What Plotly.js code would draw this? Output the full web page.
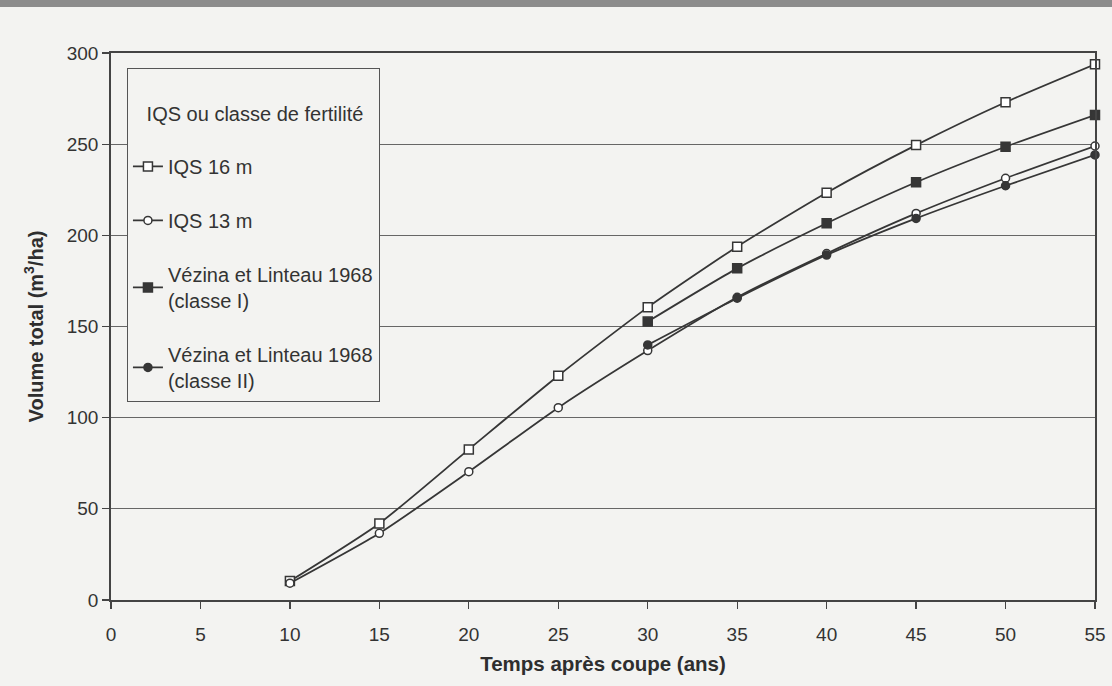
<!DOCTYPE html>
<html>
<head>
<meta charset="utf-8">
<script src="https://cdn.plot.ly/plotly-3.0.1.min.js"></script>
<style>
  html, body { margin: 0; padding: 0; background: #f3f3f1; }
  #band { position: absolute; left: 0; top: 0; width: 1112px; height: 7px; background: #8c8c8c; z-index: 5; }
  #chart { width: 1112px; height: 686px; }
</style>
</head>
<body>
<div id="band"></div>
<div id="chart"></div>
<script>
// Years after cutting
const ageIQS = [10, 15, 20, 25, 30, 35, 40, 45, 50, 55];
const ageVezina = [30, 35, 40, 45, 50, 55];

// Total volume (m3/ha)
const volIQS16 = [10.4, 42.0, 82.6, 123.0, 160.5, 193.8, 223.4, 249.5, 273.0, 293.8];
const volIQS13 = [9.2, 36.6, 70.4, 105.5, 136.8, 166.0, 190.0, 212.0, 231.3, 249.0];
const volClasseI = [152.7, 181.9, 206.6, 229.1, 248.6, 266.0];
const volClasseII = [139.9, 165.5, 189.2, 209.3, 227.2, 244.1];

const seriesNames = [
  'IQS 16 m',
  'IQS 13 m',
  'Vézina et Linteau 1968<br>(classe I)',
  'Vézina et Linteau 1968<br>(classe II)'
];
const legendTitle = 'IQS ou classe de fertilité';
const xTitle = 'Temps après coupe (ans)';
const yTitle = 'Volume total (m<sup>3</sup>/ha)';

const ink = '#363636';
const FONT = '"Liberation Sans", Arial, Helvetica, sans-serif';

function series(x, y, name, symbol, fill, size, group) {
  return {
    type: 'scatter', mode: 'lines+markers',
    x: x, y: y, name: name, legendgroup: group,
    cliponaxis: false,
    line: { color: ink, width: 1.8, shape: 'spline', smoothing: 0.6 },
    marker: { symbol: symbol, size: size, color: fill, line: { color: ink, width: 1.5 } }
  };
}

const data = [
  series(ageIQS, volIQS16, seriesNames[0], 'square', '#ffffff', 9, 'a'),
  series(ageIQS, volIQS13, seriesNames[1], 'circle', '#ffffff', 8, 'b'),
  series(ageVezina, volClasseI, seriesNames[2], 'square', ink, 9, 'c'),
  series(ageVezina, volClasseII, seriesNames[3], 'circle', ink, 8, 'd')
];

// indented legend heading with breathing room above and below
const nbsp = '\u00a0';
const legendHeading = '<br>' + nbsp.repeat(3) + legendTitle + '<br>';

const layout = {
  width: 1112, height: 686,
  margin: { l: 111, r: 17, t: 53, b: 86 },
  paper_bgcolor: '#f3f3f1',
  plot_bgcolor: '#f3f3f1',
  font: { family: FONT, color: '#333333', size: 19 },
  showlegend: true,
  legend: {
    x: 0.016, y: 0.973, xanchor: 'left', yanchor: 'top',
    bgcolor: '#f3f3f1', bordercolor: '#555555', borderwidth: 1.2,
    font: { family: FONT, size: 20, color: '#333333' },
    title: { text: legendHeading, font: { family: FONT, size: 20, color: '#333333' } },
    traceorder: 'grouped', tracegroupgap: 25,
    itemwidth: 30
  },
  xaxis: {
    range: [0, 55], dtick: 5, tick0: 0,
    showline: true, linecolor: '#444444', linewidth: 1.8, mirror: true,
    ticks: 'outside', ticklen: 7, tickcolor: '#444444', tickwidth: 1.2,
    ticklabelstandoff: 9,
    showgrid: false, zeroline: false,
    tickfont: { size: 19, color: '#333333' },
    title: { text: xTitle, font: { size: 20.5, color: '#2e2e2e', weight: 'bold' }, standoff: 13 }
  },
  yaxis: {
    range: [0, 300], dtick: 50, tick0: 0,
    showline: true, linecolor: '#444444', linewidth: 1.8, mirror: true,
    ticks: 'outside', ticklen: 7, tickcolor: '#444444', tickwidth: 1.2,
    showgrid: true, gridcolor: '#666666', gridwidth: 1.2, zeroline: false,
    tickfont: { size: 19, color: '#333333' },
    title: { text: yTitle, font: { size: 20, color: '#2e2e2e', weight: 'bold' }, standoff: 18 }
  }
};

Plotly.newPlot('chart', data, layout, { displayModeBar: false, staticPlot: true });
</script>
</body>
</html>
